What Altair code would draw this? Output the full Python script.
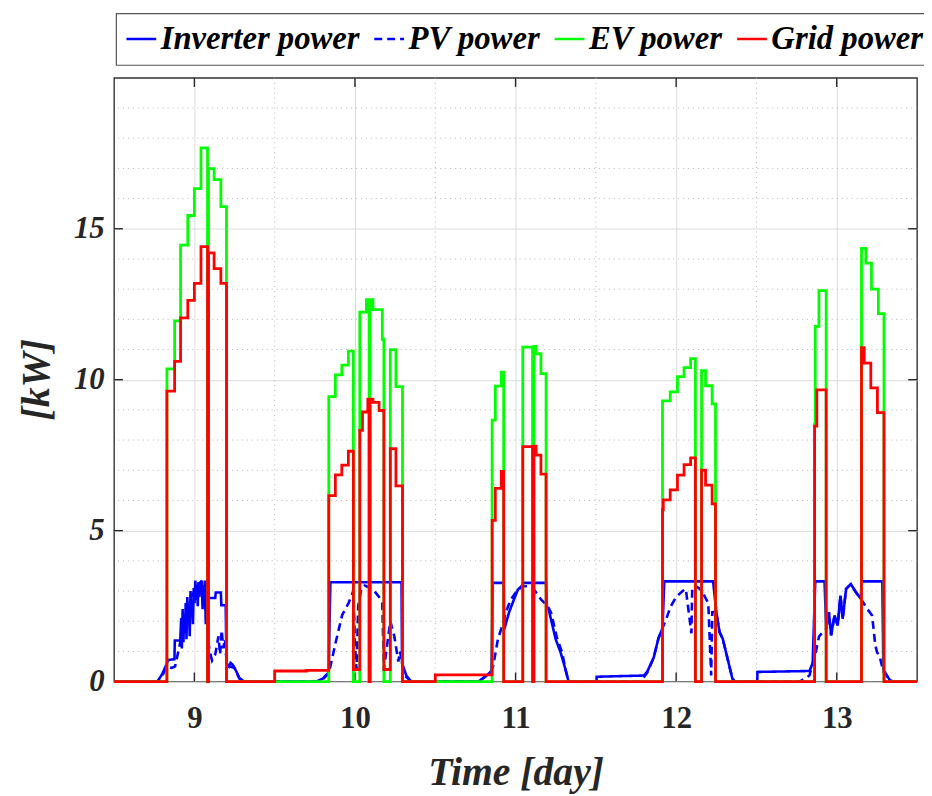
import altair as alt
import pandas as pd

# ---------------- data ----------------
series_names = ["Inverter power", "PV power", "EV power", "Grid power"]
series_colors = ["#0000ff", "#0000ff", "#00ff00", "#ff0000"]

inv_t = [8.5, 8.77, 8.80, 8.83, 8.84, 8.876, 8.878, 8.912, 8.918, 8.922, 8.927, 8.932, 8.936, 8.941,
         8.946, 8.951, 8.956, 8.961, 8.966, 8.971, 8.976, 8.981, 8.986, 8.991, 8.996, 9.001, 9.006,
         9.011, 9.016, 9.021, 9.026, 9.031, 9.036, 9.041, 9.046, 9.051, 9.056, 9.061, 9.066, 9.071,
         9.076, 9.08, 9.09, 9.13, 9.133,
         9.165, 9.168, 9.195, 9.2, 9.215, 9.225, 9.24, 9.26, 9.28, 9.31,
         9.76, 9.80, 9.836, 9.847, 10.29, 10.293, 10.32, 10.35,
         10.77, 10.82, 10.85, 10.858, 10.926, 10.93, 10.96, 10.99, 11.015, 11.045, 11.047, 11.19,
         11.195, 11.21, 11.23, 11.25, 11.28, 11.31, 11.33,
         11.504, 11.505, 11.8, 11.82, 11.86, 11.89, 11.915, 11.926, 12.23, 12.25, 12.27, 12.29,
         12.32, 12.35, 12.365,
         12.505, 12.506, 12.83, 12.85, 12.866, 12.924, 12.934, 12.951, 12.965, 12.986, 13.006,
         13.023, 13.037, 13.058, 13.088, 13.119, 13.15, 13.154, 13.284, 13.29, 13.33, 13.35, 13.5]
inv_v = [0, 0, 0.25, 0.62, 0.72, 0.74, 1.36, 1.36, 2.1, 1.1, 2.4, 1.3, 2.2, 1.6,
         2.6, 1.4, 2.8, 1.9, 2.5, 1.5, 3.0, 2.2, 2.7, 1.9, 3.1, 2.6, 3.35,
         2.7, 3.2, 2.5, 3.3, 2.8, 3.3, 2.9, 3.35, 2.4, 3.2, 2.7, 3.35, 1.9,
         3.3, 3.2, 2.77, 2.77, 2.95,
         2.95, 2.53, 2.53, 0.6, 0.5, 0.62, 0.55, 0.35, 0.12, 0,
         0, 0.1, 0.3, 3.29, 3.29, 0.6, 0.2, 0,
         0, 0.2, 0.35, 3.27, 3.27, 1.74, 2.3, 2.72, 3.05, 3.2, 3.27, 3.27,
         2.5, 2.3, 1.85, 1.4, 0.97, 0.42, 0,
         0, 0.16, 0.2, 0.33, 0.79, 1.44, 1.77, 3.32, 3.32, 2.31, 1.64, 1.42,
         0.76, 0.1, 0,
         0, 0.32, 0.35, 0.61, 3.32, 3.32, 1.75, 2.3, 1.53, 2.19, 1.86,
         2.85, 2.08, 3.07, 3.23, 2.96, 2.74, 3.32, 3.32, 0.4, 0.05, 0, 0]

pv_t = [8.5, 8.77, 8.80, 8.83, 8.86, 8.88, 8.90, 8.92, 8.94, 8.96, 8.98, 9.0, 9.02, 9.04, 9.06,
        9.075, 9.09, 9.10, 9.11, 9.13, 9.15, 9.16, 9.17, 9.18, 9.19, 9.2, 9.22, 9.25, 9.28, 9.31,
        9.76, 9.80, 9.837, 9.88, 9.92, 9.96, 9.99, 10.0, 10.01, 10.02, 10.04, 10.06, 10.11, 10.15,
        10.17, 10.18, 10.2, 10.22, 10.245, 10.27, 10.28, 10.31, 10.35,
        10.77, 10.82, 10.85, 10.86, 10.89, 10.91, 10.94, 10.97, 11.015, 11.055, 11.085, 11.115,
        11.158, 11.2, 11.22, 11.24, 11.26, 11.29, 11.31, 11.33,
        11.78, 11.82, 11.86, 11.89, 11.915, 11.94, 11.965, 12.0, 12.04, 12.06, 12.095, 12.1,
        12.12, 12.14, 12.16, 12.2, 12.218, 12.225, 12.25, 12.27, 12.29, 12.32, 12.35, 12.365,
        12.77, 12.83, 12.85, 12.87, 12.89, 12.934, 12.951, 12.965, 12.986, 13.006, 13.023,
        13.037, 13.058, 13.088, 13.119, 13.15, 13.19, 13.22, 13.24, 13.25, 13.27, 13.29, 13.33,
        13.35, 13.5]
pv_v = [0, 0, 0.2, 0.5, 0.45, 0.5, 1.0, 1.5, 2.0, 2.4, 2.8, 3.0, 3.2, 3.3, 3.1,
        2.0, 1.2, 0.9, 0.7, 0.9, 1.5, 0.9, 1.7, 1.1, 1.4, 0.7, 0.5, 0.45, 0.1, 0,
        0, 0.08, 0.27, 1.3, 2.2, 2.6, 3.0, 1.2, 0.4, 2.5, 3.07, 3.18, 3.07, 2.8,
        2.6, 0.4, 1.2, 2.0, 1.5, 0.66, 1.0, 0.2, 0,
        0, 0.2, 0.35, 0.5, 1.4, 1.74, 2.3, 2.72, 3.05, 3.16, 3.16, 3.05,
        2.72, 2.5, 2.3, 1.85, 1.4, 0.97, 0.42, 0,
        0, 0.3, 0.79, 1.44, 1.77, 2.1, 2.48, 2.8, 3.0, 3.07, 1.6, 3.1,
        3.17, 3.1, 3.0, 2.6, 0.2, 2.3, 2.31, 1.64, 1.42, 0.76, 0.1, 0,
        0, 0.2, 0.6, 1.0, 1.5, 1.75, 2.3, 1.53, 2.19, 1.86, 2.85,
        2.08, 3.07, 3.23, 2.96, 2.74, 2.41, 2.19, 1.2, 0.99, 0.77, 0.33, 0.05,
        0, 0]

ev_t = [8.5, 8.829, 8.877, 8.914, 8.959, 9.0, 9.041, 9.082, 9.088, 9.123, 9.165, 9.2,
        9.837, 9.878, 9.918, 9.959, 9.99, 10.03, 10.071, 10.088, 10.094, 10.112, 10.17, 10.18,
        10.22, 10.255, 10.296,
        10.854, 10.874, 10.911, 10.926, 11.045, 11.106, 11.114, 11.128, 11.158, 11.19,
        11.915, 11.963, 12.008, 12.049, 12.09, 12.12, 12.158, 12.183, 12.224, 12.245,
        12.862, 12.866, 12.889, 12.934, 13.154, 13.181, 13.216, 13.259, 13.294, 13.5]
ev_v = [0, 10.36, 11.95, 14.46, 15.44, 16.33, 17.68, 0, 16.99, 16.63, 15.73, 0,
        9.44, 10.16, 10.48, 10.95, 0, 12.24, 12.65, 0, 12.65, 12.32, 11.34, 0,
        11.0, 9.77, 0,
        8.66, 9.79, 10.25, 0, 11.08, 0, 11.1, 10.86, 10.2, 0,
        9.3, 9.6, 10.1, 10.4, 10.7, 0, 10.3, 9.8, 9.2, 0,
        8.53, 11.77, 12.95, 0, 14.35, 13.86, 13.0, 12.19, 0, 0]

grid_t = [8.5, 8.829, 8.877, 8.914, 8.959, 9.0, 9.041, 9.082, 9.088, 9.123, 9.165, 9.2,
          9.5, 9.7, 9.837, 9.878, 9.918, 9.959, 9.99, 10.03, 10.047, 10.08, 10.088, 10.094,
          10.112, 10.15, 10.18, 10.22, 10.255, 10.296,
          10.5, 10.854, 10.874, 10.911, 10.926, 11.045, 11.106, 11.114, 11.128, 11.158, 11.19,
          11.915, 11.92, 11.963, 12.008, 12.049, 12.09, 12.12, 12.158, 12.183, 12.224, 12.245,
          12.862, 12.876, 12.934, 13.154, 13.171, 13.212, 13.253, 13.294, 13.5]
grid_v = [0, 9.62, 10.61, 12.05, 12.63, 13.19, 14.41, 0, 14.2, 13.68, 13.19, 0,
          0.35, 0.37, 6.16, 6.85, 7.17, 7.63, 0.4, 8.32, 8.93, 9.36, 0, 9.36,
          9.25, 8.98, 0.4, 7.72, 6.48, 0,
          0.22, 5.34, 6.4, 6.96, 0, 7.78, 0, 7.8, 7.5, 6.87, 0,
          5.7, 6.02, 6.35, 6.84, 7.19, 7.41, 0, 7.0, 6.51, 5.89, 0,
          8.46, 9.66, 0, 11.06, 10.55, 9.73, 8.91, 0, 0]

x_ticks = [9, 10, 11, 12, 13]
y_ticks = [0, 5, 10, 15]
x_minor = [9.5, 10.5, 11.5, 12.5]
y_minor = [1, 2, 3, 4, 6, 7, 8, 9, 11, 12, 13, 14, 16, 17, 18, 19]
x_range = [8.5, 13.5]
y_range = [0, 20]
x_tick_len = 0.055   # inward tick length in x data units
y_tick_len = 0.3     # inward tick length in y data units


def make_df(name, t, v):
    return pd.DataFrame({"time": t, "power": v, "series": name})


lin_df = pd.concat([make_df("Inverter power", inv_t, inv_v), make_df("PV power", pv_t, pv_v)])
step_df = pd.concat([make_df("EV power", ev_t, ev_v), make_df("Grid power", grid_t, grid_v)])
vgrid_df = pd.DataFrame({"time": x_minor})
hgrid_df = pd.DataFrame({"power": y_minor})

# inward tick marks (MATLAB box style) built from the tick lists
xt_df = pd.DataFrame({
    "time": x_ticks * 2,
    "power": [y_range[0]] * len(x_ticks) + [y_range[1]] * len(x_ticks),
    "power2": [y_range[0] + y_tick_len] * len(x_ticks) + [y_range[1] - y_tick_len] * len(x_ticks),
})
yt_df = pd.DataFrame({
    "power": y_ticks * 2,
    "time": [x_range[0]] * len(y_ticks) + [x_range[1]] * len(y_ticks),
    "time2": [x_range[0] + x_tick_len] * len(y_ticks) + [x_range[1] - x_tick_len] * len(y_ticks),
})

SERIF = "Liberation Serif"

xscale = alt.Scale(domain=x_range, nice=False, zero=False)
yscale = alt.Scale(domain=y_range, nice=False)

xaxis = alt.Axis(values=x_ticks, title="Time [day]", grid=True, gridColor="#dcdcdc", gridWidth=1,
                 domain=False, ticks=False, labelFont=SERIF, labelFontSize=31, labelFontWeight="bold",
                 labelColor="#262626", labelPadding=22,
                 titleFont=SERIF, titleFontSize=40, titleFontWeight="bold", titleFontStyle="italic",
                 titleColor="#262626", titleX=405, titleY=92, titleBaseline="middle")
yaxis = alt.Axis(values=y_ticks, title="[kW]", grid=True, gridColor="#dcdcdc", gridWidth=1,
                 domain=False, ticks=False, labelFont=SERIF, labelFontSize=31, labelFontWeight="bold",
                 labelFontStyle="italic", labelColor="#262626", labelPadding=10,
                 titleFont=SERIF, titleFontSize=40, titleFontWeight="bold", titleFontStyle="italic",
                 titleColor="#262626", titleX=-78, titleY=304, titleAngle=270, titleAlign="center",
                 titleBaseline="middle")

color = alt.Color("series:N", title=None,
                  scale=alt.Scale(domain=series_names, range=series_colors))
dash = alt.StrokeDash("series:N", title=None,
                      scale=alt.Scale(domain=series_names, range=[[1, 0], [8, 5], [1, 0], [1, 0]]))

vgrid = alt.Chart(vgrid_df).mark_rule(color="#b5b5b5", strokeWidth=1, strokeDash=[1, 4]).encode(
    x=alt.X("time:Q", scale=xscale, axis=xaxis))
hgrid = alt.Chart(hgrid_df).mark_rule(color="#b5b5b5", strokeWidth=1, strokeDash=[1, 4]).encode(
    y=alt.Y("power:Q", scale=yscale, axis=yaxis))

xticks_l = alt.Chart(xt_df).mark_rule(color="#262626", strokeWidth=1.4).encode(
    x=alt.X("time:Q", scale=xscale, axis=xaxis),
    y=alt.Y("power:Q", scale=yscale, axis=yaxis), y2="power2:Q")
yticks_l = alt.Chart(yt_df).mark_rule(color="#262626", strokeWidth=1.4).encode(
    y=alt.Y("power:Q", scale=yscale, axis=yaxis),
    x=alt.X("time:Q", scale=xscale, axis=xaxis), x2="time2:Q")

lin = alt.Chart(lin_df).mark_line(strokeWidth=2.6, interpolate="linear").encode(
    x=alt.X("time:Q", scale=xscale, axis=xaxis),
    y=alt.Y("power:Q", scale=yscale, axis=yaxis),
    color=color, strokeDash=dash)
step = alt.Chart(step_df).mark_line(strokeWidth=2.8, interpolate="step-after").encode(
    x=alt.X("time:Q", scale=xscale, axis=xaxis),
    y=alt.Y("power:Q", scale=yscale, axis=yaxis),
    color=color, strokeDash=dash)

chart = alt.layer(vgrid, hgrid, xticks_l, yticks_l, lin, step).properties(
    width=810, height=609,
    autosize=alt.AutoSizeParams(type="none"),
    padding={"left": 107, "top": 67, "right": 7, "bottom": 114},
    background="white",
).configure_view(
    stroke="#333333", strokeWidth=1.4
).configure_legend(
    orient="none", legendX=2, legendY=-65, direction="horizontal", columns=4,
    strokeColor="#555555", strokeWidth=1.2, fillColor="white", padding=9,
    columnPadding=9, symbolType="stroke", symbolSize=900, symbolStrokeWidth=2.6,
    labelFont=SERIF, labelFontSize=33, labelFontWeight="bold", labelFontStyle="italic",
    labelColor="#000000", labelLimit=0, labelOffset=3
)

chart.save("out.html", embed_options={"renderer": "svg", "actions": False})
